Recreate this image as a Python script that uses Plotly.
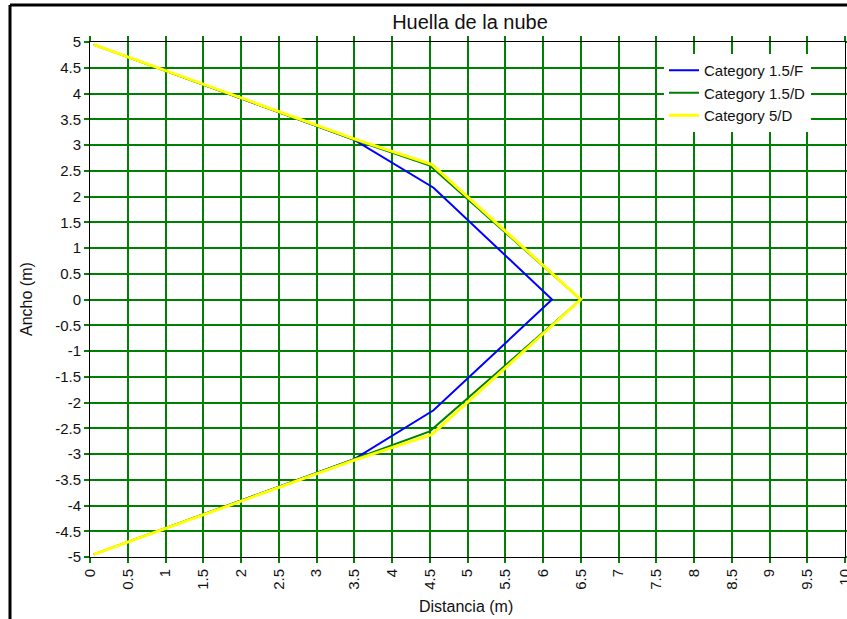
import plotly.graph_objects as go

# Data
series_names = ["Category 1.5/F", "Category 1.5/D", "Category 5/D"]
x_15F = [0.05, 3.5, 4.55, 6.12, 4.55, 3.5, 0.05]
y_15F = [4.95, 3.1, 2.17, 0.0, -2.15, -3.1, -4.95]
x_15D = [0.05, 3.5, 4.5, 6.5, 4.5, 3.5, 0.05]
y_15D = [4.95, 3.1, 2.6, 0.0, -2.56, -3.1, -4.95]
x_5D = [0.05, 3.5, 4.53, 6.5, 4.53, 3.5, 0.05]
y_5D = [4.95, 3.12, 2.62, 0.0, -2.62, -3.12, -4.95]
colors = ["#0000FF", "#008000", "#FFFF00"]
widths = [2, 2, 3]

x_ticks = [i * 0.5 for i in range(21)]
x_ticklabels = ["0", "0.5", "1", "1.5", "2", "2.5", "3", "3.5", "4", "4.5", "5",
                "5.5", "6", "6.5", "7", "7.5", "8", "8.5", "9", "9.5", "10"]
y_ticks = [5 - i * 0.5 for i in range(21)]
y_ticklabels = ["5", "4.5", "4", "3.5", "3", "2.5", "2", "1.5", "1", "0.5", "0",
                "-0.5", "-1", "-1.5", "-2", "-2.5", "-3", "-3.5", "-4", "-4.5", "-5"]

W, H = 847, 619
# plot area in page pixels: x 90..845, y 42..557
L, T = 90, 42
R = W - 845
B = H - 557
pw, ph = W - L - R, H - T - B


def px(xp):  # page x pixel -> paper x
    return (xp - L) / pw


def py(yp):  # page y pixel -> paper y
    return (H - B - yp) / ph


fig = go.Figure()
for name, xs, ys, c, w in zip(series_names, [x_15F, x_15D, x_5D], [y_15F, y_15D, y_5D], colors, widths):
    fig.add_trace(go.Scatter(x=xs, y=ys, mode="lines", name=name,
                             line=dict(color=c, width=w)))

font = "Liberation Sans, Arial, sans-serif"
axis_common = dict(showgrid=True, gridcolor="#008000", gridwidth=1.5,
                   showline=True, linecolor="black", linewidth=1, mirror="ticks",
                   ticks="outside", ticklen=5, tickcolor="#008000", tickwidth=1.5,
                   zeroline=False, automargin=False, ticklabeloverflow="allow",
                   tickfont=dict(family=font, size=15, color="#111111"))

fig.update_xaxes(range=[0, 10], tickvals=x_ticks, ticktext=x_ticklabels, tickangle=-90,
                 **axis_common)
fig.update_yaxes(range=[-5, 5], tickvals=y_ticks, ticktext=y_ticklabels,
                 **axis_common)

# axis titles as annotations at measured positions
fig.add_annotation(text="Distancia (m)", xref="paper", yref="paper",
                   x=px(466), y=py(606), xanchor="center", yanchor="middle",
                   showarrow=False, font=dict(family=font, size=16, color="#111111"))
fig.add_annotation(text="Ancho (m)", xref="paper", yref="paper", textangle=-90,
                   x=px(26), y=py(299), xanchor="center", yanchor="middle",
                   showarrow=False, font=dict(family=font, size=16, color="#111111"))

# outer black frame (left and top edges visible)
fig.add_shape(type="line", xref="paper", yref="paper", x0=px(10), x1=px(10), y0=py(5), y1=py(640),
              line=dict(color="black", width=3))
fig.add_shape(type="line", xref="paper", yref="paper", x0=px(10), x1=px(860), y0=py(5), y1=py(5),
              line=dict(color="black", width=3))

fig.update_layout(
    width=W, height=H,
    margin=dict(l=L, r=R, t=T, b=B),
    paper_bgcolor="white", plot_bgcolor="white",
    title=dict(text="Huella de la nube", x=470 / W, xanchor="center",
               y=1 - 22 / H, yanchor="middle",
               font=dict(family=font, size=20, color="#111111")),
    legend=dict(x=px(664), y=py(54), xanchor="left", yanchor="top",
                bgcolor="white", borderwidth=0,
                font=dict(family=font, size=15, color="#111111"),
                tracegroupgap=0),
    showlegend=True,
)

fig.write_html("out.html", config={"displayModeBar": False},
               post_script="document.body.style.margin='0';document.body.style.padding='0';"
                           "document.body.style.overflow='hidden';"
                           "document.documentElement.style.overflow='hidden';")
